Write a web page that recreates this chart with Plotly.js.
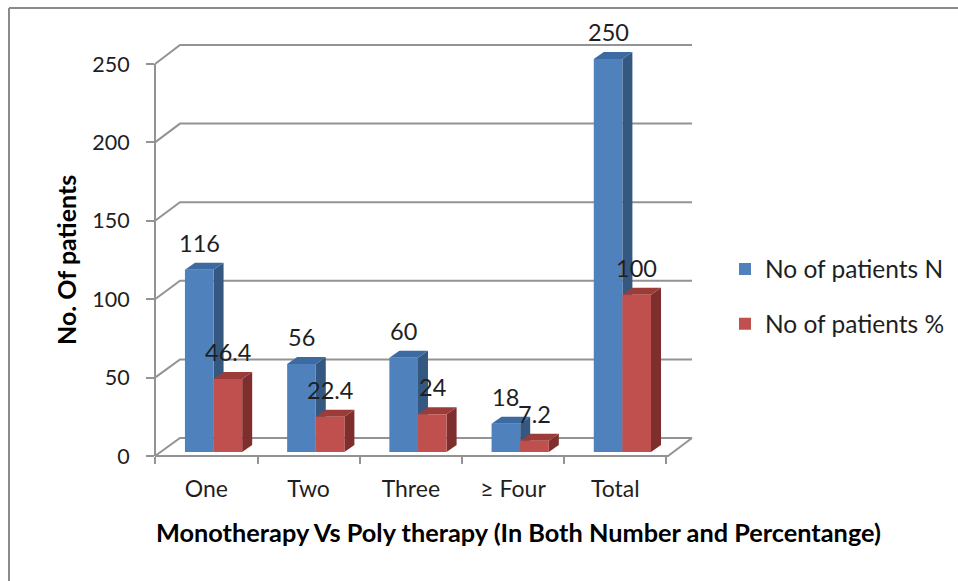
<!DOCTYPE html>
<html>
<head>
<meta charset="utf-8">
<script src="https://cdn.plot.ly/plotly-3.0.1.min.js"></script>
<style>
  html, body { margin: 0; padding: 0; background: #ffffff; }
  #chart { width: 958px; height: 581px; }
</style>
</head>
<body>
<div id="chart"></div>
<script>
// ---- data ----
const categories = ["One", "Two", "Three", "\u2265 Four", "Total"];
const patientsN = [116, 56, 60, 18, 250];
const patientsPct = [46.4, 22.4, 24, 7.2, 100];
const seriesNames = ["No of patients N", "No of patients %"];
const yTickValues = [0, 50, 100, 150, 200, 250];

// ---- styling / geometry ----
const FONT = "Lato, 'Open Sans', sans-serif";
const TXT = "#1f1f1f";
const GRID = "#939393";
const BLUE = { front: "#4F81BD", side: "#34587F", top: "#3D6AA0" };
const RED = { front: "#C0504D", side: "#7E2F2D", top: "#9C3C39" };

// plot area in page pixels
const PL = 155, PR = 692, PT = 45, PB = 456;
const fx = px => (px - PL) / (PR - PL);
const fy = py => (PB - py) / (PB - PT);

// front axis (labels): 0 -> 456, 250 -> 64 ; back wall: 0 -> 438, 250 -> 45
const frontPy = v => 456 - v * (392 / 250);
const backPy = v => 438 - v * (393 / 250);
const BACK_L = 180, FLOOR_R = 668;

// bar coordinate system
const xRange = [-0.503, 4.751];
const pxPerX = (PR - PL) / (xRange[1] - xRange[0]);
const yRange = [-2.545, 258.9];
const pxPerY = (PB - PT) / (yRange[1] - yRange[0]);
const depthX = 10 / pxPerX, depthY = 7 / pxPerY;

const barW = 0.28;
const offBlue = -0.21, offRed = 0.07;
const xIdx = categories.map((c, i) => i);

const shapes = [];
// chart frame (top + left edges)
shapes.push({type: "line", xref: "paper", yref: "paper", x0: fx(9), x1: fx(958), y0: fy(8), y1: fy(8), line: {color: "#8a8a8a", width: 2}, layer: "below"});
shapes.push({type: "line", xref: "paper", yref: "paper", x0: fx(9), x1: fx(9), y0: fy(8), y1: fy(581), line: {color: "#8a8a8a", width: 2}, layer: "below"});

// perspective gridlines (back wall + connector to the front axis)
yTickValues.forEach(v => {
  const p = `M ${fx(PL)},${fy(frontPy(v))} L ${fx(BACK_L)},${fy(backPy(v))} L ${fx(PR)},${fy(backPy(v))}`;
  shapes.push({type: "path", xref: "paper", yref: "paper", path: p, line: {color: GRID, width: 2}, layer: "below"});
});
// floor front edge and right edge
shapes.push({type: "path", xref: "paper", yref: "paper",
  path: `M ${fx(PL)},${fy(frontPy(0))} L ${fx(FLOOR_R)},${fy(frontPy(0))} L ${fx(PR)},${fy(backPy(0))}`,
  line: {color: GRID, width: 2}, layer: "below"});
// front value axis line
shapes.push({type: "line", xref: "paper", yref: "paper", x0: 0, x1: 0,
  y0: fy(frontPy(0)), y1: fy(frontPy(250)), line: {color: GRID, width: 2}, layer: "below"});

// 3D faces for each bar (side + top), built from the data
function faces(values, off, col) {
  values.forEach((v, i) => {
    const xl = i + off, xr = i + off + barW;
    shapes.push({type: "path", xref: "x", yref: "y", layer: "below", line: {width: 0},
      fillcolor: col.side,
      path: `M ${xr},0 L ${xr},${v} L ${xr + depthX},${v + depthY} L ${xr + depthX},${depthY} Z`});
    shapes.push({type: "path", xref: "x", yref: "y", layer: "below", line: {width: 0},
      fillcolor: col.top,
      path: `M ${xl},${v} L ${xr},${v} L ${xr + depthX},${v + depthY} L ${xl + depthX},${v + depthY} Z`});
  });
}
faces(patientsN, offBlue, BLUE);
faces(patientsPct, offRed, RED);

// value labels
const annotations = [];
function labels(values, off) {
  values.forEach((v, i) => {
    annotations.push({x: i + off + barW / 2, y: v, xref: "x", yref: "y", text: String(v),
      showarrow: false, yanchor: "middle", yshift: 27,
      font: {family: FONT, size: 23.5, color: TXT}});
  });
}
labels(patientsN, offBlue);
labels(patientsPct, offRed);

// axis titles
annotations.push({xref: "paper", yref: "paper", x: fx(518), y: fy(532), text: "<b>Monotherapy Vs Poly therapy (In Both Number and Percentange)</b>",
  showarrow: false, xanchor: "center", yanchor: "middle", font: {family: FONT, size: 25.3, color: "#000"}});
annotations.push({xref: "paper", yref: "paper", x: fx(66), y: fy(260), text: "<b>No. Of patients</b>", textangle: -90,
  showarrow: false, xanchor: "center", yanchor: "middle", font: {family: FONT, size: 25, color: "#000"}});

const traces = [
  {type: "bar", name: seriesNames[0], x: xIdx, y: patientsN, width: barW, offset: offBlue,
   marker: {color: BLUE.front, line: {width: 0}}, legendgroup: "a", hoverinfo: "y"},
  {type: "bar", name: seriesNames[1], x: xIdx, y: patientsPct, width: barW, offset: offRed,
   marker: {color: RED.front, line: {width: 0}}, legendgroup: "b", hoverinfo: "y"}
];

const boundaries = categories.map((c, i) => i - 0.5).concat([categories.length - 0.5]);
const frontRange = [(456 - PB) / (392 / 250), (456 - PT) / (392 / 250)];

const layout = {
  width: 958, height: 581,
  margin: {l: PL, r: 958 - PR, t: PT, b: 581 - PB, pad: 0, autoexpand: false},
  paper_bgcolor: "#ffffff", plot_bgcolor: "rgba(0,0,0,0)",
  barmode: "overlay",
  showlegend: true,
  legend: {x: fx(725), y: fy(296.5), xanchor: "left", yanchor: "middle",
    traceorder: "grouped", tracegroupgap: 20,
    font: {family: FONT, size: 24.5, color: TXT}, bgcolor: "rgba(0,0,0,0)"},
  xaxis: {range: xRange, tickvals: xIdx, ticktext: categories, ticks: "", showgrid: false,
    zeroline: false, showline: false, fixedrange: true, ticklabelstandoff: 17,
    tickfont: {family: FONT, size: 23, color: TXT},
    minor: {tickvals: boundaries, ticks: "outside", ticklen: 7, tickwidth: 2, tickcolor: GRID, showgrid: false}},
  yaxis: {range: yRange, visible: false, fixedrange: true},
  yaxis2: {range: frontRange, overlaying: "y", anchor: "x", side: "left", tickvals: yTickValues,
    ticks: "outside", ticklen: 8, tickwidth: 2, tickcolor: GRID, showgrid: false, zeroline: false,
    showline: false, ticklabelstandoff: 12, tickfont: {family: FONT, size: 21.5, color: TXT}, fixedrange: true},
  shapes: shapes,
  annotations: annotations
};

// a hidden helper trace keeps yaxis2 drawn
traces.push({type: "scatter", x: [xRange[0]], y: [0], yaxis: "y2", mode: "markers",
  marker: {opacity: 0}, showlegend: false, hoverinfo: "skip"});

Plotly.newPlot("chart", traces, layout, {displayModeBar: false, staticPlot: true});
</script>
</body>
</html>
